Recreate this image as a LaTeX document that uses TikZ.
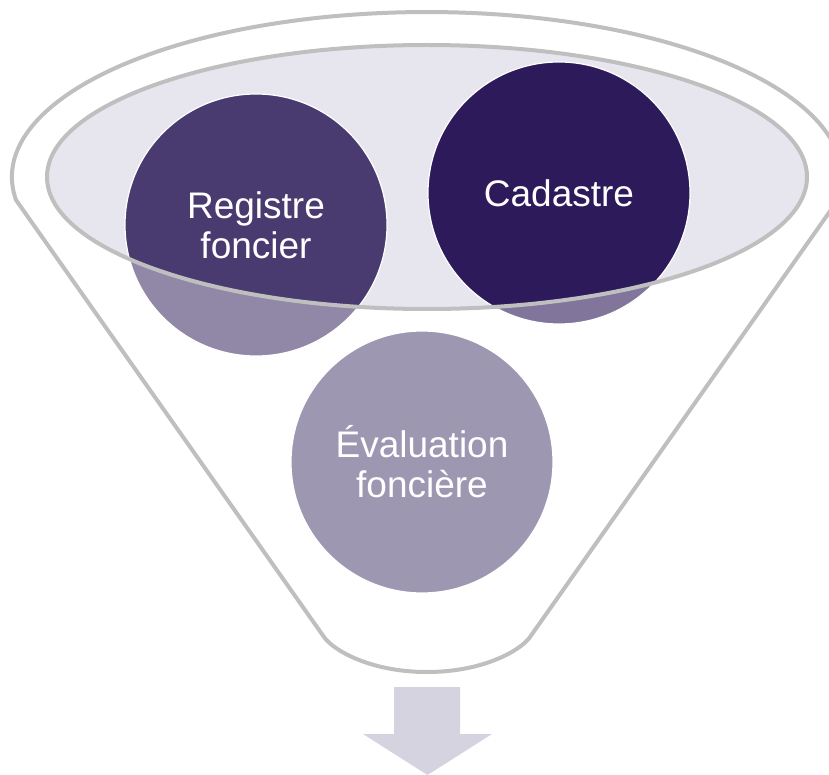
\documentclass[tikz,border=0pt]{standalone}
\usepackage{fontspec}
\setmainfont{Liberation Sans}
\usetikzlibrary{positioning}

\definecolor{funnelgray}{HTML}{BFBFBF}
\definecolor{mouthfill}{HTML}{E7E6EE}
\definecolor{regcol}{HTML}{493A6F}
\definecolor{cadcol}{HTML}{2D1A5B}
\definecolor{evalcol}{HTML}{5D5280}
\definecolor{arrowcol}{HTML}{D4D3DF}

\begin{document}
\begin{tikzpicture}[x=1pt, y=1pt, yscale=-1,
    funnelline/.style={draw=funnelgray, line width=4pt},
    ball/.style={circle, draw=white, line width=1.2pt, minimum size=262pt, inner sep=0pt,
        text=white, align=center, font=\fontsize{37}{40}\selectfont}]
    \clip (0,0) rectangle (829,775);

    % Mouth of the funnel
    \fill[mouthfill] (427,177) ellipse [x radius=380, y radius=132];

    % Circles
    \node[ball, fill=regcol] (reg) at (256,225) {Registre\\foncier};
    \node[ball, fill=cadcol] (cad) at (559,193) {Cadastre};
    \node[ball, fill=evalcol] (eval) at (422,462) {Évaluation\\foncière};

    % Funnel glass and outline
    \path[funnelline, fill=white, fill opacity=0.4, even odd rule]
        (16,200) arc [start angle=172, end angle=368, x radius=415, y radius=165]
        -- (530,637) .. controls (521,650) and (484,672) .. (427,672)
        .. controls (370,672) and (333,650) .. (324,637) -- cycle
        (427,177) ellipse [x radius=380, y radius=132];

    % Arrow
    \fill[arrowcol] (394,687) -- (460,687) -- (460,734) -- (492,734) -- (427.5,775)
        -- (363,734) -- (394,734) -- cycle;
\end{tikzpicture}
\end{document}
